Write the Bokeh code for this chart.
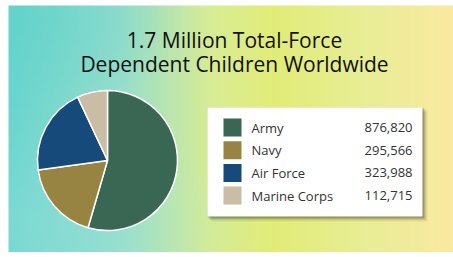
import numpy as np
from bokeh.plotting import figure
from bokeh.models import Range1d, ColumnDataSource
from bokeh.core.properties import value
from bokeh.embed import file_html
from bokeh.resources import INLINE

# ---- data ----
branches = ["Army", "Navy", "Air Force", "Marine Corps"]
children = [876820, 295566, 323988, 112715]
colors = ["#3a6754", "#988442", "#164a7a", "#c9bea5"]
title_lines = ["1.7 Million Total-Force", "Dependent Children Worldwide"]

W, H = 453, 252
p = figure(width=W, height=H, x_range=Range1d(0, 453), y_range=Range1d(252, 0),
           output_backend="svg", toolbar_location=None, min_border=0)
p.axis.visible = False
p.grid.visible = False
p.outline_line_color = None
p.background_fill_color = "white"
p.border_fill_color = "white"

# ---- watercolor-like background (decorative gradient) ----
nx, ny = 120, 70
xs = np.linspace(0, 1, nx)
ys = np.linspace(0, 1, ny)
stops_x = [0.0, 0.25, 0.45, 0.6, 0.8, 1.0]
stops_c = np.array([
    [105, 213, 206],
    [150, 222, 205],
    [215, 236, 150],
    [226, 236, 120],
    [232, 238, 150],
    [250, 233, 160],
], dtype=float)
row = np.stack([np.interp(xs, stops_x, stops_c[:, k]) for k in range(3)], axis=-1)
img = np.repeat(row[None, :, :], ny, axis=0)
yy, xx = np.meshgrid(ys, xs, indexing="ij")  # yy=0 is top
wash = np.clip(1 - np.hypot(xx - 0.05, yy - 0.9) / 0.5, 0, 1)[..., None]
img = img * (1 - 0.35 * wash) + np.array([160, 228, 222]) * 0.35 * wash
tl = np.clip(1 - np.hypot(xx - 0.05, yy - 0.05) / 0.35, 0, 1)[..., None]
img = img * (1 - 0.4 * tl) + np.array([90, 208, 200]) * 0.4 * tl
rgba = np.zeros((ny, nx), dtype=np.uint32)
view = rgba.view(dtype=np.uint8).reshape((ny, nx, 4))
view[..., 0] = img[..., 0].astype(np.uint8)
view[..., 1] = img[..., 1].astype(np.uint8)
view[..., 2] = img[..., 2].astype(np.uint8)
view[..., 3] = 255
p.image_rgba(image=[rgba], x=8, y=5, dw=445, dh=247)

# ---- title ----
font = value("Open Sans")
p.text(x=[234, 234], y=[39, 63], text=title_lines, text_font=font,
       text_font_size="21px", text_color="#111111",
       text_align="center", text_baseline="middle")

# ---- pie ----
vals = np.array(children, dtype=float)
frac = vals / vals.sum()
cum = np.concatenate([[0], np.cumsum(frac)])
start = np.pi / 2 - cum[:-1] * 2 * np.pi
end = np.pi / 2 - cum[1:] * 2 * np.pi
src = ColumnDataSource(dict(start=start, end=end, color=colors, name=branches))
p.wedge(x=107, y=160, radius=70, start_angle="start", end_angle="end",
        direction="clock", fill_color="color", line_color="white",
        line_width=1.5, source=src)

# ---- legend box ----
for i, a in enumerate([0.05, 0.07, 0.09, 0.12, 0.15]):
    off = 5 - i
    p.quad(left=207 + off - 1, right=422 + off, top=107 + off - 1, bottom=216 + off,
           fill_color="black", fill_alpha=a, line_color=None)
p.quad(left=207, right=422, top=107, bottom=216, fill_color="white",
       line_color=None)

row_y = [127 + i * 22.7 for i in range(len(branches))]
p.rect(x=[232] * 4, y=row_y, width=18, height=18, fill_color=colors,
       line_color=None)
p.text(x=[251] * 4, y=row_y, text=branches, text_font=font,
       text_font_size="13px", text_color="#333333", text_baseline="middle")
p.text(x=[412] * 4, y=row_y, text=[f"{v:,}" for v in children], text_font=font,
       text_font_size="13px", text_color="#333333", text_baseline="middle",
       text_align="right")

open("out.html", "w").write(file_html(p, INLINE))
